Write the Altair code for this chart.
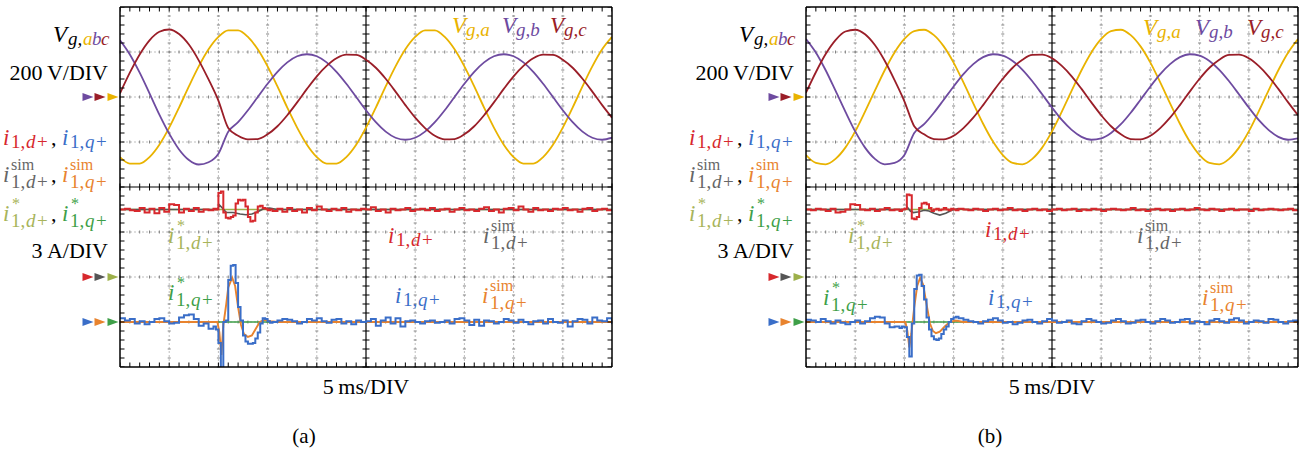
import altair as alt
import numpy as np
import pandas as pd

FONT = "Liberation Serif"
W, H = 492, 360
XDOM = [0, 50]          # ms (5 ms/DIV, 10 DIV)
YDOM = [-4, 4]          # divisions
V_PER_DIV, A_PER_DIV = 200, 3
ZERO_V, ZERO_D, ZERO_Q = 2, -2, -3   # zero levels of the three traces (DIV)

# ---------------- sampled time bases (ms) ----------------
T_V = list(range(0, 51))
T_I = [float(v) for v in np.round(np.concatenate([
    np.arange(0, 9.75, 0.5), np.arange(9.75, 15.51, 0.25), np.arange(16, 50.01, 0.5)]), 2)]

# ---------------- panel (a) grid voltages (V) ----------------
VA_A = [-267, -296, -296, -267, -212, -136, -47, 47, 136, 212, 267, 296, 296, 267, 212, 136, 47, -47, -136, -212,
        -267, -296, -296, -267, -212, -136, -47, 47, 136, 212, 267, 296, 296, 267, 212, 136, 47, -47, -136, -212,
        -267, -296, -296, -267, -212, -136, -47, 47, 136, 212, 267]
VB_A = [252, 189, 108, 16, -78, -163, -233, -280, -300, -290, -252,
        -154, -112, -59, 0, 59, 112, 154, 181, 190, 181, 154, 112, 59, 0, -59, -112, -154, -181, -190, -181,
        -154, -112, -59, 0, 59, 112, 154, 181, 190, 181, 154, 112, 59, 0, -59, -112, -154, -181, -190, -181]
VC_A = [16, 108, 189, 252, 290, 300, 280, 233, 163, 78, -16,
        -138, -172, -188, -187, -166, -130, -81, -24, 36, 92, 138, 172, 188, 187, 166, 130, 81, 24, -36, -92,
        -138, -172, -188, -187, -166, -130, -81, -24, 36, 92, 138, 172, 188, 187, 166, 130, 81, 24, -36, -92]

# ---------------- panel (b) grid voltages (V) ----------------
VA_B = [-258, -293, -299, -275, -225, -153, -65, 28, 119, 198, 258, 293, 299, 275, 225, 153, 65, -28, -119, -198,
        -258, -293, -299, -275, -225, -153, -65, 28, 119, 198, 258, 293, 299, 275, 225, 153, 65, -28, -119, -198,
        -258, -293, -299, -275, -225, -153, -65, 28, 119, 198, 258]
VB_B = [258, 198, 119, 28, -65, -153, -225, -275, -299, -293, -258,
        -160, -121, -70, -12, 47, 102, 146, 177, 190, 184, 160, 121, 70, 12, -47, -102, -146, -177, -190, -184,
        -160, -121, -70, -12, 47, 102, 146, 177, 190, 184, 160, 121, 70, 12, -47, -102, -146, -177, -190, -184]
VC_B = [19, 110, 191, 253, 291, 299, 279, 231, 161, 75, -19,
        -130, -166, -187, -188, -172, -138, -92, -36, 24, 81, 130, 166, 187, 188, 172, 138, 92, 36, -24, -81,
        -130, -166, -187, -188, -172, -138, -92, -36, 24, 81, 130, 166, 187, 188, 172, 138, 92, 36, -24, -81]

# ---------------- measured currents (A) on T_I ----------------
ID_TAIL = [4.55, 4.35, 4.6, 4.4, 4.5, 4.3, 4.6, 4.45, 4.7, 4.5,
           4.4, 4.55, 4.45, 4.6, 4.35, 4.5, 4.45, 4.55, 4.5, 4.65,
           4.4, 4.5, 4.3, 4.55, 4.45, 4.5, 4.6, 4.4, 4.5, 4.55,
           4.45, 4.6, 4.4, 4.5, 4.55, 4.35, 4.5, 4.6, 4.45, 4.5,
           4.4, 4.55, 4.65, 4.4, 4.5, 4.3, 4.55, 4.6, 4.45, 4.7,
           4.5, 4.35, 4.6, 4.45, 4.5, 4.4, 4.55, 4.5, 4.6, 4.45,
           4.5, 4.35, 4.55, 4.6, 4.4, 4.5, 4.55, 4.45, 4.5]
ID_A = ([4.5, 4.55, 4.45, 4.4, 4.6, 4.3, 4.55, 4.25, 4.6, 4.35, 4.85, 4.8, 4.3, 4.55, 4.4, 4.6, 4.35, 4.5, 4.45, 4.55]
        + [4.5, 5.6, 5.7, 4.3, 3.95, 3.9, 4.0, 4.1, 4.9, 5.15, 5.1, 5.15, 4.7, 4.0, 3.7, 3.75, 4.3, 4.7, 4.75, 4.6,
           4.55, 4.45, 4.5, 4.4]
        + ID_TAIL)
IQ_A = ([0.25, 0.1, 0.2, -0.1, 0.05, -0.15, 0.0, 0.2, 0.25, 0.05, -0.1, -0.05, 0.3, 0.45, 0.5, 0.2, -0.25, -0.1, -0.45, -0.3]
        + [-0.5, -1.4, -3.2, 0.0, 0.1, 2.8, 3.75, 3.8, 2.6, 1.0, 0.1, -0.9, -1.3, -1.45, -1.45, -1.4, -1.1, -0.7, -0.1, 0.25,
           0.2, 0.05, -0.05, 0.0]
        + [0.1, 0.2, 0.15, 0.05, -0.1, 0.0, 0.2, 0.1, 0.25, 0.05,
           -0.05, 0.15, 0.2, -0.1, 0.05, -0.15, 0.1, 0.0, 0.05, 0.2,
           -0.25, 0.1, 0.3, -0.1, 0.25, -0.3, 0.05, 0.1, 0.0, -0.1,
           0.05, 0.1, -0.05, 0.0, 0.1, -0.1, 0.2, 0.25, 0.1, -0.2,
           0.15, -0.25, 0.1, 0.05, -0.1, 0.0, 0.2, 0.1, -0.05, 0.15,
           0.0, -0.15, 0.05, 0.1, -0.1, 0.2, 0.0, -0.05, 0.1, -0.3,
           0.05, 0.2, 0.15, -0.1, 0.3, 0.1, 0.05, 0.25, -0.15])
ID_B = ([4.5, 4.45, 4.55, 4.5, 4.4, 4.55, 4.3, 4.35, 4.5, 4.85, 4.8, 4.5, 4.45, 4.55, 4.4, 4.5, 4.6, 4.45, 4.5, 4.4]
        + [4.5, 4.55, 5.5, 5.45, 3.9, 3.85, 4.0, 4.6, 4.9, 4.95, 4.85, 4.6, 4.4, 4.5, 4.55, 4.45, 4.5, 4.6, 4.5, 4.45,
           4.55, 4.5, 4.45, 4.55]
        + [4.5, 4.45, 4.55, 4.5, 4.4, 4.5, 4.55, 4.45, 4.5, 4.6,
           4.45, 4.5, 4.4, 4.5, 4.55, 4.45, 4.5, 4.4, 4.5, 4.55,
           4.45, 4.5, 4.55, 4.4, 4.5, 4.45, 4.55, 4.5, 4.4, 4.5,
           4.55, 4.5, 4.45, 4.5, 4.6, 4.45, 4.5, 4.4, 4.5, 4.55,
           4.45, 4.5, 4.4, 4.5, 4.55, 4.45, 4.5, 4.6, 4.5, 4.45,
           4.55, 4.5, 4.4, 4.5, 4.55, 4.45, 4.5, 4.5, 4.4, 4.55,
           4.45, 4.5, 4.55, 4.5, 4.45, 4.5, 4.55, 4.45, 4.5])
IQ_B = ([0.15, 0.1, 0.0, 0.2, 0.05, -0.1, 0.1, -0.05, -0.15, 0.0, 0.1, -0.1, 0.05, 0.25, 0.35, 0.3, -0.1, -0.35, -0.3, -0.4]
        + [-0.3, -0.35, -1.0, -2.3, -0.1, 2.2, 3.1, 3.15, 2.4, 1.5, 0.3, -0.5, -0.95, -1.15, -1.2, -1.1, -0.8, -0.5, -0.3, 0.0,
           0.2, 0.3, 0.35, 0.25]
        + [0.15, 0.05, 0.0, -0.1, 0.05, 0.15, 0.25, 0.1, -0.05, 0.0,
           -0.15, -0.05, 0.1, 0.15, 0.0, -0.1, 0.05, 0.2, 0.1, -0.05,
           0.0, 0.1, -0.1, -0.15, 0.05, 0.2, 0.1, 0.0, -0.1, -0.05,
           0.1, 0.2, 0.05, -0.1, -0.05, 0.1, 0.15, 0.0, -0.1, 0.05,
           0.2, 0.1, -0.05, 0.0, 0.15, 0.2, -0.1, 0.05, 0.0, -0.15,
           0.1, 0.2, 0.05, -0.05, 0.15, 0.25, 0.1, -0.1, 0.0, 0.1,
           0.05, -0.05, 0.2, 0.15, 0.0, -0.1, 0.05, 0.1, -0.2])

# ---------------- simulated currents (A) ----------------
SD_A_T = [0, 9.9, 10.1, 10.4, 10.8, 11.5, 12.2, 12.8, 13.4, 14.0, 14.6, 15.2, 16.0, 50]
SD_A = [4.5, 4.5, 4.8, 4.6, 4.3, 4.3, 4.2, 4.15, 4.2, 4.35, 4.55, 4.6, 4.5, 4.5]
SQ_A_T = [0, 9.9, 10.1, 10.3, 10.5, 10.8, 11.0, 11.4, 11.7, 12.0, 12.3, 12.6, 13.0, 13.4, 13.8, 14.2, 14.7, 15.3, 16.0, 50]
SQ_A = [0, 0, -0.7, -2.2, -0.2, 1.2, 2.3, 2.95, 2.4, 1.0, -0.2, -0.8, -1.0, -0.9, -0.45, 0.0, 0.15, 0.05, 0, 0]
SD_B_T = [0, 10.1, 10.3, 10.6, 10.9, 11.5, 12.0, 12.5, 13.0, 13.6, 14.2, 14.8, 15.4, 16.2, 50]
SD_B = [4.5, 4.5, 4.65, 4.4, 4.3, 4.35, 4.45, 4.4, 4.25, 4.13, 4.25, 4.45, 4.55, 4.5, 4.5]
SQ_B_T = [0, 10.1, 10.3, 10.5, 10.7, 11.0, 11.3, 11.6, 11.9, 12.3, 12.6, 12.9, 13.2, 13.6, 14.1, 14.6, 15.2, 16.0, 50]
SQ_B = [0, 0, -0.6, -1.7, -0.8, 1.0, 2.4, 2.95, 2.5, 1.0, -0.1, -0.6, -0.75, -0.65, -0.3, 0.0, 0.1, 0, 0]

# ---------------- references (A) ----------------
REF_T = [0, 50]
ID_REF = [4.5, 4.5]
IQ_REF = [0, 0]

# ---------------- graticule ----------------
MAJOR_X = list(range(0, 51, 5))
MAJOR_Y = list(range(-4, 5))
MINOR_X = list(range(0, 51))
MINOR_Y = [round(-4 + 0.2 * k, 1) for k in range(41)]
GRID_X = [v for v in MAJOR_X if v not in (0, 25, 50)]
GRID_Y = [v for v in MAJOR_Y if v not in (-4, 0, 4)]

COLORS = {
    "Va": "#E9B300", "Vb": "#6E4BA0", "Vc": "#9A1E28",
    "id": "#D7282D", "iq": "#3A6EC8",
    "id_sim": "#555555", "iq_sim": "#E8832E",
    "id_ref": "#9DB04A", "iq_ref": "#3E9F48",
}
LBL = {"id_sim": "#666666", "id_ref": "#A8B45A"}
CSCALE = alt.Scale(domain=list(COLORS.keys()), range=list(COLORS.values()))
XS = alt.Scale(domain=XDOM, nice=False, zero=False)
YS = alt.Scale(domain=YDOM, nice=False, zero=False)
TRI = "M-1,-0.72L1,0L-1,0.72Z"
ONE = pd.DataFrame({"k": [0]})


def X(f):
    return alt.X(f, type="quantitative", scale=XS, axis=None)


def Y(f):
    return alt.Y(f, type="quantitative", scale=YS, axis=None)


def txt(s, x, y, color="black", size=22, italic=True, align="left"):
    return alt.Chart(ONE).mark_text(
        text=s, font=FONT, fontSize=size, fontStyle="italic" if italic else "normal",
        color=color, align=align, baseline="alphabetic").encode(x=alt.value(x), y=alt.value(y))


def sub(x, y, letter, color, size=19):
    return [txt("1,", x, y, color, size, False), txt(letter, x + 15, y, color, size, True),
            txt("+", x + 26, y, color, size, False)]


def ilab(x, y, color, letter, sup=None):
    out = [txt("i", x, y, color, 23)]
    dy = 3
    if sup == "sim":
        out.append(txt("sim", x + 8, y - 12, color, 16, False))
        dy = 6
    elif sup == "*":
        out.append(txt("*", x + 9, y - 12, color, 16, False))
        dy = 6
    out += sub(x + 8, y + dy, letter, color)
    return out


def vlab(x, y, color, s):
    return [txt("V", x, y, color, 23), txt(s, x + 14, y + 3, color, 19)]


def left_labels():
    P = [txt("V", -67, 35, size=23), txt("g,", -52, 38, size=19),
         txt("a", -37, 38, COLORS["Va"], 19), txt("b", -28, 38, COLORS["Vb"], 19),
         txt("c", -19, 38, COLORS["Vc"], 19),
         txt("200\u2009V/DIV", -12, 73, italic=False, align="right"),
         txt("3\u2009A/DIV", -12, 251, italic=False, align="right")]
    rows = [(138, COLORS["id"], COLORS["iq"], None),
            (175, LBL["id_sim"], COLORS["iq_sim"], "sim"),
            (214, LBL["id_ref"], COLORS["iq_ref"], "*")]
    for yb, c1, c2, sup in rows:
        P += ilab(-117, yb, c1, "d", sup)
        P.append(txt(",", -69, yb, "black", 22, False))
        P += ilab(-58, yb, c2, "q", sup)
    return P


def line_layer(t, v, s, expr, width, interp):
    df = pd.DataFrame({"t": t, "v": v, "s": s})
    return alt.Chart(df).transform_calculate(y=expr).mark_line(
        clip=True, strokeWidth=width, interpolate=interp).encode(
        x=X("t"), y=Y("y"), color=alt.Color("s:N", scale=CSCALE, legend=None), detail="s:N")


def tick_layer(xs, ys, orient, size, color, clip=False):
    df = pd.DataFrame([{"x": a, "y": b} for a in xs for b in ys])
    return alt.Chart(df).mark_tick(orient=orient, size=size, thickness=1, color=color,
                                   opacity=1, clip=clip).encode(x=X("x"), y=Y("y"))


def panel(VA, VB, VC, ID, IQ, SDT, SD, SQT, SQ, inner, cap, anchor):
    L = []
    if anchor:
        L.append(alt.Chart(ONE).mark_rect(color="white").encode(
            x=alt.value(-120), x2=alt.value(0), y=alt.value(-7), y2=alt.value(445)))
    # grid
    L.append(alt.Chart(pd.DataFrame({"x": GRID_X})).mark_rule(
        color="#bdbdbd", strokeWidth=1, strokeDash=[2, 2]).encode(x=X("x")))
    L.append(alt.Chart(pd.DataFrame({"y": GRID_Y})).mark_rule(
        color="#bdbdbd", strokeWidth=1, strokeDash=[2, 2]).encode(y=Y("y")))
    L.append(tick_layer(MINOR_X, GRID_Y, "vertical", 3, "#808080"))
    L.append(tick_layer(GRID_X, MINOR_Y, "horizontal", 3, "#808080"))
    # centre lines
    L.append(alt.Chart(pd.DataFrame({"x": [25]})).mark_rule(color="black", strokeWidth=1.2).encode(x=X("x")))
    L.append(alt.Chart(pd.DataFrame({"y": [0]})).mark_rule(color="black", strokeWidth=1.2).encode(y=Y("y")))
    L.append(tick_layer(MINOR_X, [0], "vertical", 7, "black"))
    L.append(tick_layer([25], MINOR_Y, "horizontal", 7, "black"))
    # signals
    n = len(T_V)
    L.append(line_layer(T_V * 3, VA + VB + VC, ["Va"] * n + ["Vb"] * n + ["Vc"] * n,
                        f"{ZERO_V} + datum.v / {V_PER_DIV}", 1.8, "monotone"))
    L.append(line_layer(REF_T, ID_REF, ["id_ref"] * 2, f"{ZERO_D} + datum.v / {A_PER_DIV}", 1.6, "linear"))
    L.append(line_layer(REF_T, IQ_REF, ["iq_ref"] * 2, f"{ZERO_Q} + datum.v / {A_PER_DIV}", 1.6, "linear"))
    L.append(line_layer(SDT, SD, ["id_sim"] * len(SDT), f"{ZERO_D} + datum.v / {A_PER_DIV}", 1.7, "linear"))
    L.append(line_layer(SQT, SQ, ["iq_sim"] * len(SQT), f"{ZERO_Q} + datum.v / {A_PER_DIV}", 1.9, "linear"))
    L.append(line_layer(T_I, ID, ["id"] * len(T_I), f"{ZERO_D} + datum.v / {A_PER_DIV}", 2.0, "step-after"))
    L.append(line_layer(T_I, IQ, ["iq"] * len(T_I), f"{ZERO_Q} + datum.v / {A_PER_DIV}", 2.0, "step-after"))
    # frame
    L.append(alt.Chart(pd.DataFrame({"x": XDOM})).mark_rule(color="black", strokeWidth=1.5).encode(x=X("x")))
    L.append(alt.Chart(pd.DataFrame({"y": YDOM})).mark_rule(color="black", strokeWidth=1.5).encode(y=Y("y")))
    L.append(tick_layer(MINOR_X, YDOM, "vertical", 9, "black", clip=True))
    L.append(tick_layer(XDOM, MINOR_Y, "horizontal", 9, "black", clip=True))
    # zero-level arrows
    for px, ser in zip([-32, -20, -7], [["Vb", "id", "iq"], ["Vc", "id_sim", "iq_sim"], ["Va", "id_ref", "iq_ref"]]):
        adf = pd.DataFrame({"lvl": [ZERO_V, ZERO_D, ZERO_Q], "s": ser})
        L.append(alt.Chart(adf).mark_point(shape=TRI, size=121, filled=True, opacity=1, strokeWidth=0).encode(
            x=alt.value(px), y=Y("lvl"), color=alt.Color("s:N", scale=CSCALE, legend=None)))
    # labels
    L += left_labels()
    L += inner
    L.append(txt("5\u2009ms/DIV", 246, 387, italic=False, align="center"))
    L.append(txt(cap, 184, 436, size=21, italic=False, align="center"))
    return alt.layer(*L).properties(width=W, height=H)


inner_a = (vlab(332, 26, COLORS["Va"], "g,a") + vlab(382, 26, COLORS["Vb"], "g,b") + vlab(430, 26, COLORS["Vc"], "g,c")
           + ilab(48, 236, LBL["id_ref"], "d", "*") + ilab(48, 293, COLORS["iq_ref"], "q", "*")
           + ilab(268, 236, COLORS["id"], "d") + ilab(363, 236, LBL["id_sim"], "d", "sim")
           + ilab(275, 296, COLORS["iq"], "q") + ilab(362, 296, COLORS["iq_sim"], "q", "sim"))
inner_b = (vlab(337, 28, COLORS["Va"], "g,a") + vlab(389, 28, COLORS["Vb"], "g,b") + vlab(441, 28, COLORS["Vc"], "g,c")
           + ilab(42, 236, LBL["id_ref"], "d", "*") + ilab(17, 298, COLORS["iq_ref"], "q", "*")
           + ilab(179, 230, COLORS["id"], "d") + ilab(331, 236, LBL["id_sim"], "d", "sim")
           + ilab(182, 298, COLORS["iq"], "q") + ilab(396, 298, COLORS["iq_sim"], "q", "sim"))

pa = panel(VA_A, VB_A, VC_A, ID_A, IQ_A, SD_A_T, SD_A, SQ_A_T, SQ_A, inner_a, "(a)", True)
pb = panel(VA_B, VB_B, VC_B, ID_B, IQ_B, SD_B_T, SD_B, SQ_B_T, SQ_B, inner_b, "(b)", False)

chart = alt.hconcat(pa, pb, spacing=194, bounds="flush").properties(
    padding=0, background="white").configure_view(stroke=None)

chart.save("out.html", embed_options={"renderer": "svg", "actions": False})
